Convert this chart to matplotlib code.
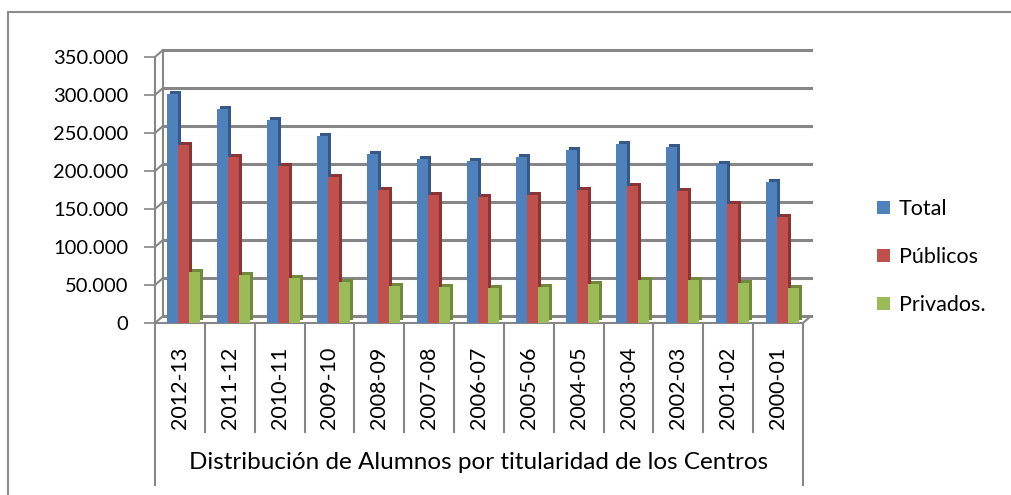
import matplotlib.pyplot as plt
from matplotlib.patches import Rectangle, ConnectionPatch
from matplotlib.ticker import FuncFormatter
from matplotlib.transforms import offset_copy, blended_transform_factory

plt.rcParams['font.family'] = ['Lato', 'DejaVu Sans']

cursos = ["2012-13", "2011-12", "2010-11", "2009-10", "2008-09", "2007-08", "2006-07",
          "2005-06", "2004-05", "2003-04", "2002-03", "2001-02", "2000-01"]
total = [301000, 282000, 267000, 246000, 223000, 216000, 213000,
         218000, 227000, 236000, 231000, 209000, 185000]
publicos = [234000, 218000, 207000, 192000, 175000, 168000, 166000,
            169000, 175000, 180000, 174000, 157000, 139000]
privados = [67000, 63000, 59000, 54000, 49000, 47000, 46000,
            47000, 51000, 56000, 57000, 52000, 46000]
series = [("Total", total, "#4F81BD", "#36598A"),
          ("Públicos", publicos, "#C0504D", "#8A3533"),
          ("Privados.", privados, "#9BBB59", "#6F8A3A")]
titulo = "Distribución de Alumnos por titularidad de los Centros"

W, H = 1011, 495
fig = plt.figure(figsize=(W / 100, H / 100), dpi=100)
ax = fig.add_axes([155 / W, (H - 323) / H, (803 - 155) / W, 266 / H])
ax.set_xlim(-0.5, len(cursos) - 0.5)
ax.set_ylim(0, 350000)

grid_c = "#868686"
back = offset_copy(ax.transData, fig=fig, x=8, y=7, units='dots')
depth = offset_copy(ax.transData, fig=fig, x=3, y=3, units='dots')

# back wall gridlines + left wall
ticks = range(0, 350001, 50000)
for v in ticks:
    ax.plot([-0.5, len(cursos) - 0.5], [v, v], color=grid_c, lw=2.2, transform=back,
            zorder=1, clip_on=False)
    ax.add_artist(ConnectionPatch(xyA=(-0.5, v), coordsA=ax.transData,
                                  xyB=(-0.5, v), coordsB=back,
                                  color=grid_c, lw=1.5, zorder=1))
ax.plot([-0.5, -0.5], [0, 350000], color=grid_c, lw=1.5, transform=back, zorder=1, clip_on=False)
# floor
ax.plot([-0.5, len(cursos) - 0.5], [0, 0], color=grid_c, lw=1.5, zorder=1, clip_on=False)
ax.add_artist(ConnectionPatch(xyA=(len(cursos) - 0.5, 0), coordsA=ax.transData,
                              xyB=(len(cursos) - 0.5, 0), coordsB=back,
                              color=grid_c, lw=1.5, zorder=1))

w = 0.22
for k, (name, vals, c, dark) in enumerate(series):
    xs = [i + (k - 1) * w + 0.08 for i in range(len(cursos))]
    ax.bar(xs, vals, width=w, color=dark, transform=depth, zorder=3, clip_on=False)
    ax.bar(xs, vals, width=w, color=c, zorder=4, label=name, clip_on=False)

for s in ax.spines.values():
    s.set_visible(False)
ax.spines['left'].set_visible(True)
ax.spines['left'].set_color(grid_c)
ax.spines['left'].set_linewidth(1.5)
ax.set_yticks(list(ticks))
ax.yaxis.set_major_formatter(FuncFormatter(lambda v, p: f"{v:,.0f}".replace(",", ".")))
ax.tick_params(axis='y', length=8, width=1.2, color=grid_c, pad=11, labelsize=14.5)
ax.set_xticks([])

# category axis table
tr = blended_transform_factory(ax.transData, ax.transAxes)
n = len(cursos)
for i in range(n + 1):
    x = i - 0.5
    bottom = -0.61 if i in (0, n) else -0.41
    ax.plot([x, x], [-0.005, bottom], color=grid_c, lw=1.5, transform=tr, clip_on=False)
for i, lab in enumerate(cursos):
    ax.text(i, -0.245, lab, rotation=90, ha='center', va='center', fontsize=15.5,
            transform=tr)
ax.text((n - 1) / 2, -0.525, titulo, ha='center', va='center', fontsize=17.5, transform=tr)

fig.legend(loc='center left', bbox_to_anchor=(858 / W, (H - 257) / H), frameon=False,
           fontsize=15.5, labelspacing=1.3, handlelength=0.6, handleheight=0.6,
           handletextpad=0.4)

fig.patches.append(Rectangle((8 / W, -0.2), 1.2, (H - 12) / H + 0.2, transform=fig.transFigure,
                             fill=False, edgecolor="#8C8C8C", lw=1.5))

fig.savefig("out.png", dpi=100)
